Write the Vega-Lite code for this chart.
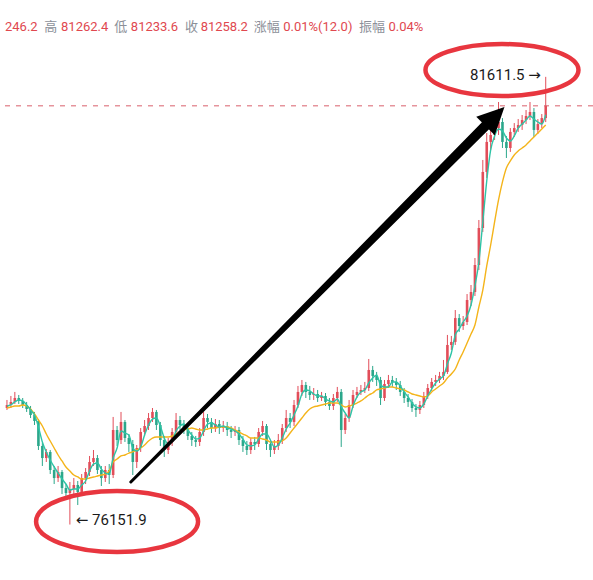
{
  "$schema": "https://vega.github.io/schema/vega-lite/v6.json",
  "width": 593,
  "height": 580,
  "autosize": {"type": "none"},
  "padding": 0,
  "background": "white",
  "config": {
    "view": {"stroke": null},
    "axis": {"domain": false, "ticks": false, "labels": false, "title": null, "grid": true, "gridColor": "#eef1f5", "gridWidth": 1}
  },
  "datasets": {
    "k": [
      {"i":0,"o":77573,"h":77671,"l":77549,"c":77610,"m1":77598,"m2":77573},
      {"i":1,"o":77610,"h":77720,"l":77573,"c":77647,"m1":77610,"m2":77586},
      {"i":2,"o":77647,"h":77769,"l":77622,"c":77695,"m1":77647,"m2":77598},
      {"i":3,"o":77695,"h":77732,"l":77622,"c":77659,"m1":77671,"m2":77598},
      {"i":4,"o":77659,"h":77695,"l":77573,"c":77610,"m1":77659,"m2":77610},
      {"i":5,"o":77610,"h":77647,"l":77525,"c":77561,"m1":77610,"m2":77598},
      {"i":6,"o":77561,"h":77598,"l":77451,"c":77488,"m1":77549,"m2":77561},
      {"i":7,"o":77488,"h":77525,"l":77366,"c":77415,"m1":77488,"m2":77500},
      {"i":8,"o":77415,"h":77439,"l":77061,"c":77110,"m1":77342,"m2":77427},
      {"i":9,"o":77110,"h":77146,"l":76866,"c":76963,"m1":77159,"m2":77354},
      {"i":10,"o":76963,"h":77073,"l":76915,"c":77037,"m1":77037,"m2":77256},
      {"i":11,"o":77037,"h":77061,"l":76768,"c":76817,"m1":76939,"m2":77171},
      {"i":12,"o":76817,"h":76866,"l":76646,"c":76719,"m1":76854,"m2":77085},
      {"i":13,"o":76719,"h":76866,"l":76671,"c":76793,"m1":76780,"m2":77000},
      {"i":14,"o":76793,"h":76817,"l":76524,"c":76597,"m1":76707,"m2":76927},
      {"i":15,"o":76597,"h":76646,"l":76463,"c":76536,"m1":76646,"m2":76854},
      {"i":16,"o":76536,"h":76671,"l":76151.9,"c":76585,"m1":76573,"m2":76805},
      {"i":17,"o":76585,"h":76719,"l":76500,"c":76634,"m1":76585,"m2":76756},
      {"i":18,"o":76634,"h":76683,"l":76390,"c":76549,"m1":76585,"m2":76732},
      {"i":19,"o":76549,"h":76768,"l":76500,"c":76719,"m1":76634,"m2":76707},
      {"i":20,"o":76719,"h":76841,"l":76646,"c":76793,"m1":76683,"m2":76707},
      {"i":21,"o":76793,"h":76988,"l":76744,"c":76915,"m1":76805,"m2":76719},
      {"i":22,"o":76915,"h":77061,"l":76866,"c":76963,"m1":76890,"m2":76732},
      {"i":23,"o":76963,"h":77000,"l":76768,"c":76817,"m1":76902,"m2":76744},
      {"i":24,"o":76817,"h":76866,"l":76622,"c":76719,"m1":76829,"m2":76756},
      {"i":25,"o":76719,"h":76866,"l":76671,"c":76817,"m1":76780,"m2":76768},
      {"i":26,"o":76817,"h":76890,"l":76646,"c":76756,"m1":76768,"m2":76805},
      {"i":27,"o":76756,"h":77464,"l":76719,"c":77305,"m1":76963,"m2":76915},
      {"i":28,"o":77305,"h":77354,"l":77110,"c":77183,"m1":77085,"m2":76951},
      {"i":29,"o":77183,"h":77525,"l":77134,"c":77403,"m1":77293,"m2":76988},
      {"i":30,"o":77403,"h":77427,"l":77159,"c":77207,"m1":77268,"m2":77000},
      {"i":31,"o":77207,"h":77256,"l":77037,"c":77134,"m1":77244,"m2":77024},
      {"i":32,"o":77134,"h":77183,"l":76756,"c":76915,"m1":77085,"m2":77037},
      {"i":33,"o":76915,"h":77122,"l":76841,"c":77085,"m1":77049,"m2":77061},
      {"i":34,"o":77085,"h":77329,"l":77037,"c":77281,"m1":77098,"m2":77085},
      {"i":35,"o":77281,"h":77427,"l":77232,"c":77354,"m1":77244,"m2":77122},
      {"i":36,"o":77354,"h":77512,"l":77305,"c":77451,"m1":77366,"m2":77171},
      {"i":37,"o":77451,"h":77573,"l":77403,"c":77525,"m1":77439,"m2":77207},
      {"i":38,"o":77525,"h":77549,"l":77305,"c":77366,"m1":77451,"m2":77220},
      {"i":39,"o":77366,"h":77403,"l":77110,"c":77183,"m1":77354,"m2":77220},
      {"i":40,"o":77183,"h":77232,"l":76976,"c":77061,"m1":77207,"m2":77220},
      {"i":41,"o":77061,"h":77207,"l":77012,"c":77159,"m1":77134,"m2":77220},
      {"i":42,"o":77159,"h":77329,"l":77110,"c":77281,"m1":77171,"m2":77232},
      {"i":43,"o":77281,"h":77512,"l":77232,"c":77427,"m1":77293,"m2":77256},
      {"i":44,"o":77427,"h":77476,"l":77305,"c":77366,"m1":77354,"m2":77281},
      {"i":45,"o":77366,"h":77427,"l":77256,"c":77329,"m1":77378,"m2":77305},
      {"i":46,"o":77329,"h":77378,"l":77183,"c":77232,"m1":77305,"m2":77317},
      {"i":47,"o":77232,"h":77281,"l":77110,"c":77183,"m1":77244,"m2":77329},
      {"i":48,"o":77183,"h":77232,"l":77098,"c":77159,"m1":77195,"m2":77317},
      {"i":49,"o":77159,"h":77329,"l":77110,"c":77281,"m1":77207,"m2":77305},
      {"i":50,"o":77281,"h":77525,"l":77232,"c":77451,"m1":77293,"m2":77305},
      {"i":51,"o":77451,"h":77500,"l":77329,"c":77403,"m1":77378,"m2":77317},
      {"i":52,"o":77403,"h":77451,"l":77268,"c":77329,"m1":77390,"m2":77329},
      {"i":53,"o":77329,"h":77439,"l":77281,"c":77378,"m1":77366,"m2":77329},
      {"i":54,"o":77378,"h":77427,"l":77256,"c":77329,"m1":77342,"m2":77342},
      {"i":55,"o":77329,"h":77415,"l":77281,"c":77354,"m1":77354,"m2":77342},
      {"i":56,"o":77354,"h":77403,"l":77232,"c":77305,"m1":77329,"m2":77342},
      {"i":57,"o":77305,"h":77354,"l":77207,"c":77281,"m1":77317,"m2":77329},
      {"i":58,"o":77281,"h":77354,"l":77232,"c":77305,"m1":77293,"m2":77305},
      {"i":59,"o":77305,"h":77342,"l":77122,"c":77183,"m1":77256,"m2":77281},
      {"i":60,"o":77183,"h":77232,"l":77037,"c":77110,"m1":77195,"m2":77256},
      {"i":61,"o":77110,"h":77171,"l":77000,"c":77061,"m1":77122,"m2":77232},
      {"i":62,"o":77061,"h":77207,"l":77012,"c":77159,"m1":77110,"m2":77207},
      {"i":63,"o":77159,"h":77220,"l":77061,"c":77134,"m1":77122,"m2":77207},
      {"i":64,"o":77134,"h":77329,"l":77098,"c":77281,"m1":77195,"m2":77207},
      {"i":65,"o":77281,"h":77415,"l":77232,"c":77354,"m1":77256,"m2":77195},
      {"i":66,"o":77354,"h":77378,"l":77061,"c":77134,"m1":77256,"m2":77183},
      {"i":67,"o":77134,"h":77183,"l":76976,"c":77061,"m1":77183,"m2":77159},
      {"i":68,"o":77061,"h":77183,"l":77012,"c":77110,"m1":77098,"m2":77159},
      {"i":69,"o":77110,"h":77256,"l":77061,"c":77183,"m1":77122,"m2":77159},
      {"i":70,"o":77183,"h":77378,"l":77134,"c":77329,"m1":77207,"m2":77171},
      {"i":71,"o":77329,"h":77549,"l":77281,"c":77451,"m1":77317,"m2":77207},
      {"i":72,"o":77451,"h":77512,"l":77329,"c":77403,"m1":77390,"m2":77268},
      {"i":73,"o":77403,"h":77671,"l":77354,"c":77610,"m1":77488,"m2":77329},
      {"i":74,"o":77610,"h":77842,"l":77573,"c":77769,"m1":77598,"m2":77390},
      {"i":75,"o":77769,"h":77915,"l":77720,"c":77854,"m1":77744,"m2":77451},
      {"i":76,"o":77854,"h":77891,"l":77695,"c":77769,"m1":77793,"m2":77512},
      {"i":77,"o":77769,"h":77842,"l":77671,"c":77732,"m1":77781,"m2":77561},
      {"i":78,"o":77732,"h":77817,"l":77671,"c":77744,"m1":77744,"m2":77586},
      {"i":79,"o":77744,"h":77793,"l":77647,"c":77695,"m1":77720,"m2":77598},
      {"i":80,"o":77695,"h":77769,"l":77659,"c":77720,"m1":77720,"m2":77610},
      {"i":81,"o":77720,"h":77756,"l":77598,"c":77647,"m1":77683,"m2":77622},
      {"i":82,"o":77647,"h":77695,"l":77549,"c":77598,"m1":77659,"m2":77634},
      {"i":83,"o":77598,"h":77744,"l":77549,"c":77695,"m1":77647,"m2":77634},
      {"i":84,"o":77695,"h":77830,"l":77647,"c":77769,"m1":77683,"m2":77634},
      {"i":85,"o":77769,"h":77805,"l":77098,"c":77305,"m1":77586,"m2":77610},
      {"i":86,"o":77305,"h":77500,"l":77256,"c":77451,"m1":77512,"m2":77586},
      {"i":87,"o":77451,"h":77671,"l":77403,"c":77610,"m1":77451,"m2":77598},
      {"i":88,"o":77610,"h":77793,"l":77573,"c":77732,"m1":77598,"m2":77610},
      {"i":89,"o":77732,"h":77830,"l":77695,"c":77769,"m1":77708,"m2":77634},
      {"i":90,"o":77769,"h":77854,"l":77732,"c":77793,"m1":77769,"m2":77659},
      {"i":91,"o":77793,"h":77891,"l":77756,"c":77817,"m1":77793,"m2":77695},
      {"i":92,"o":77817,"h":78171,"l":77781,"c":78037,"m1":77878,"m2":77732},
      {"i":93,"o":78037,"h":78086,"l":77891,"c":77964,"m1":77939,"m2":77756},
      {"i":94,"o":77964,"h":78013,"l":77842,"c":77915,"m1":77976,"m2":77793},
      {"i":95,"o":77915,"h":77952,"l":77610,"c":77695,"m1":77854,"m2":77805},
      {"i":96,"o":77695,"h":77915,"l":77659,"c":77866,"m1":77830,"m2":77817},
      {"i":97,"o":77866,"h":77976,"l":77817,"c":77915,"m1":77830,"m2":77830},
      {"i":98,"o":77915,"h":77964,"l":77830,"c":77891,"m1":77891,"m2":77830},
      {"i":99,"o":77891,"h":77939,"l":77793,"c":77854,"m1":77891,"m2":77817},
      {"i":100,"o":77854,"h":77903,"l":77720,"c":77769,"m1":77842,"m2":77805},
      {"i":101,"o":77769,"h":77817,"l":77634,"c":77695,"m1":77769,"m2":77793},
      {"i":102,"o":77695,"h":77744,"l":77586,"c":77647,"m1":77708,"m2":77769},
      {"i":103,"o":77647,"h":77683,"l":77525,"c":77573,"m1":77634,"m2":77744},
      {"i":104,"o":77573,"h":77622,"l":77464,"c":77549,"m1":77586,"m2":77732},
      {"i":105,"o":77549,"h":77659,"l":77500,"c":77610,"m1":77573,"m2":77720},
      {"i":106,"o":77610,"h":77769,"l":77573,"c":77720,"m1":77622,"m2":77708},
      {"i":107,"o":77720,"h":77866,"l":77683,"c":77817,"m1":77720,"m2":77720},
      {"i":108,"o":77817,"h":77939,"l":77781,"c":77891,"m1":77805,"m2":77769},
      {"i":109,"o":77891,"h":77976,"l":77842,"c":77915,"m1":77878,"m2":77805},
      {"i":110,"o":77915,"h":78013,"l":77878,"c":77964,"m1":77927,"m2":77842},
      {"i":111,"o":77964,"h":78159,"l":77915,"c":78013,"m1":77964,"m2":77878},
      {"i":112,"o":78013,"h":78464,"l":77988,"c":78342,"m1":78110,"m2":77939},
      {"i":113,"o":78342,"h":78452,"l":78281,"c":78379,"m1":78244,"m2":77988},
      {"i":114,"o":78379,"h":78768,"l":78342,"c":78670,"m1":78464,"m2":78049},
      {"i":115,"o":78670,"h":78719,"l":78501,"c":78573,"m1":78536,"m2":78159},
      {"i":116,"o":78573,"h":78695,"l":78525,"c":78622,"m1":78622,"m2":78257},
      {"i":117,"o":78622,"h":78963,"l":78585,"c":78890,"m1":78695,"m2":78366},
      {"i":118,"o":78890,"h":79073,"l":78817,"c":78988,"m1":78829,"m2":78476},
      {"i":119,"o":78988,"h":79402,"l":78939,"c":79317,"m1":79061,"m2":78585},
      {"i":120,"o":79317,"h":79866,"l":79256,"c":79768,"m1":79354,"m2":78805},
      {"i":121,"o":79768,"h":80598,"l":79720,"c":80452,"m1":79842,"m2":79012},
      {"i":122,"o":80452,"h":80927,"l":80378,"c":80818,"m1":80342,"m2":79305},
      {"i":123,"o":80818,"h":81085,"l":80720,"c":80903,"m1":80720,"m2":79561},
      {"i":124,"o":80903,"h":81170,"l":80842,"c":80987,"m1":80891,"m2":79842},
      {"i":125,"o":80987,"h":81305,"l":80903,"c":81061,"m1":80975,"m2":80110},
      {"i":126,"o":81061,"h":81109,"l":80744,"c":80818,"m1":80952,"m2":80330},
      {"i":127,"o":80818,"h":80891,"l":80622,"c":80744,"m1":80866,"m2":80500},
      {"i":128,"o":80744,"h":80987,"l":80696,"c":80940,"m1":80830,"m2":80586},
      {"i":129,"o":80940,"h":81048,"l":80879,"c":80987,"m1":80891,"m2":80659},
      {"i":130,"o":80987,"h":81097,"l":80940,"c":81024,"m1":80987,"m2":80708},
      {"i":131,"o":81024,"h":81146,"l":80964,"c":81085,"m1":81036,"m2":80744},
      {"i":132,"o":81085,"h":81207,"l":81036,"c":81134,"m1":81085,"m2":80781},
      {"i":133,"o":81134,"h":81305,"l":81085,"c":81183,"m1":81134,"m2":80830},
      {"i":134,"o":81183,"h":81231,"l":80879,"c":80964,"m1":81097,"m2":80879},
      {"i":135,"o":80964,"h":81097,"l":80915,"c":81036,"m1":81061,"m2":80927},
      {"i":136,"o":81036,"h":81158,"l":80987,"c":81109,"m1":81036,"m2":80975},
      {"i":137,"o":81109,"h":81611.5,"l":81060,"c":81258.2,"m1":81150,"m2":81024}
    ],
    "hdr": [
      {"i":-0.5,"p":82219.5,"t":"246.2","k":"v"},
      {"i":9.5,"p":82219.5,"t":"高","k":"n"},
      {"i":13.75,"p":82219.5,"t":"81262.4","k":"v"},
      {"i":27.25,"p":82219.5,"t":"低","k":"n"},
      {"i":31.5,"p":82219.5,"t":"81233.6","k":"v"},
      {"i":45.25,"p":82219.5,"t":"收","k":"n"},
      {"i":49.25,"p":82219.5,"t":"81258.2","k":"v"},
      {"i":62.75,"p":82219.5,"t":"涨幅","k":"n"},
      {"i":70.25,"p":82219.5,"t":"0.01%(12.0)","k":"v"},
      {"i":89.5,"p":82219.5,"t":"振幅","k":"n"},
      {"i":97,"p":82219.5,"t":"0.04%","k":"v"}
    ]
  },
  "layer": [
    {
      "data": {"name": "k"},
      "mark": {"type": "rule", "strokeWidth": 1},
      "encoding": {
        "x": {"field": "i", "type": "quantitative", "scale": {"domain": [-0.5, 147.75], "nice": false, "zero": false}, "axis": {"values": [5, 35, 65.25, 95.25, 125.25]}},
        "y": {"field": "l", "type": "quantitative", "scale": {"domain": [75475.6, 82548.8], "nice": false, "zero": false}, "axis": {"values": [76000, 76500, 77000, 77500, 78000, 78500, 79000, 79500, 80000, 80500, 81000, 81500, 82000]}},
        "y2": {"field": "h"},
        "color": {"condition": {"test": "datum.c >= datum.o", "value": "#e24d59"}, "value": "#2ba78b"}
      }
    },
    {
      "data": {"name": "k"},
      "mark": {"type": "bar", "size": 2.6},
      "encoding": {
        "x": {"field": "i", "type": "quantitative", "scale": {"domain": [-0.5, 147.75], "nice": false, "zero": false}, "axis": null},
        "y": {"field": "o", "type": "quantitative", "scale": {"domain": [75475.6, 82548.8], "nice": false, "zero": false}, "axis": null},
        "y2": {"field": "c"},
        "color": {"condition": {"test": "datum.c >= datum.o", "value": "#e24d59"}, "value": "#2ba78b"}
      }
    },
    {
      "data": {"name": "k"},
      "mark": {"type": "line", "color": "#f4b41a", "strokeWidth": 1.4, "interpolate": "monotone"},
      "encoding": {
        "x": {"field": "i", "type": "quantitative", "scale": {"domain": [-0.5, 147.75], "nice": false, "zero": false}, "axis": null},
        "y": {"field": "m2", "type": "quantitative", "scale": {"domain": [75475.6, 82548.8], "nice": false, "zero": false}, "axis": null}
      }
    },
    {
      "data": {"name": "k"},
      "mark": {"type": "line", "color": "#2ec4a6", "strokeWidth": 1.4, "interpolate": "monotone"},
      "encoding": {
        "x": {"field": "i", "type": "quantitative", "scale": {"domain": [-0.5, 147.75], "nice": false, "zero": false}, "axis": null},
        "y": {"field": "m1", "type": "quantitative", "scale": {"domain": [75475.6, 82548.8], "nice": false, "zero": false}, "axis": null}
      }
    },
    {
      "data": {"values": [{"p": 81258.2}]},
      "mark": {"type": "rule", "color": "#d9606c", "strokeWidth": 1, "strokeDash": [5, 6]},
      "encoding": {
        "y": {"field": "p", "type": "quantitative", "scale": {"domain": [75475.6, 82548.8], "nice": false, "zero": false}, "axis": null}
      }
    },
    {
      "data": {"values": [{"i": 31.5, "p": 76671, "pt": 0}, {"i": 122, "p": 81030, "pt": 1}]},
      "mark": {"type": "trail", "color": "#000000"},
      "encoding": {
        "x": {"field": "i", "type": "quantitative", "scale": {"domain": [-0.5, 147.75], "nice": false, "zero": false}, "axis": null},
        "y": {"field": "p", "type": "quantitative", "scale": {"domain": [75475.6, 82548.8], "nice": false, "zero": false}, "axis": null},
        "size": {"field": "pt", "type": "quantitative", "scale": {"domain": [0, 1], "range": [3, 10]}, "legend": null}
      }
    },
    {
      "data": {"values": [{"i": 123.9, "p": 81119.5}]},
      "mark": {"type": "point", "shape": "M 0 -1 L 0.9 0.85 L -0.9 0.85 Z", "size": 841, "angle": 45, "filled": true, "color": "#000000", "opacity": 1},
      "encoding": {
        "x": {"field": "i", "type": "quantitative", "scale": {"domain": [-0.5, 147.75], "nice": false, "zero": false}, "axis": null},
        "y": {"field": "p", "type": "quantitative", "scale": {"domain": [75475.6, 82548.8], "nice": false, "zero": false}, "axis": null}
      }
    },
    {
      "data": {"values": [{"i": 125.875, "p": 81695}]},
      "mark": {"type": "point", "shape": "M -1 0 C -1 -0.188 -0.552 -0.34 0 -0.34 C 0.552 -0.34 1 -0.188 1 0 C 1 0.188 0.552 0.34 0 0.34 C -0.552 0.34 -1 0.188 -1 0 Z", "size": 23409, "filled": false, "color": "#e8363f", "strokeWidth": 4.5, "opacity": 1},
      "encoding": {
        "x": {"field": "i", "type": "quantitative", "scale": {"domain": [-0.5, 147.75], "nice": false, "zero": false}, "axis": null},
        "y": {"field": "p", "type": "quantitative", "scale": {"domain": [75475.6, 82548.8], "nice": false, "zero": false}, "axis": null}
      }
    },
    {
      "data": {"values": [{"i": 28, "p": 76189}]},
      "mark": {"type": "point", "shape": "M -1 0 C -1 -0.208 -0.552 -0.377 0 -0.377 C 0.552 -0.377 1 -0.208 1 0 C 1 0.208 0.552 0.377 0 0.377 C -0.552 0.377 -1 0.208 -1 0 Z", "size": 26244, "filled": false, "color": "#e8363f", "strokeWidth": 4.5, "opacity": 1},
      "encoding": {
        "x": {"field": "i", "type": "quantitative", "scale": {"domain": [-0.5, 147.75], "nice": false, "zero": false}, "axis": null},
        "y": {"field": "p", "type": "quantitative", "scale": {"domain": [75475.6, 82548.8], "nice": false, "zero": false}, "axis": null}
      }
    },
    {
      "data": {"values": [{"i": 17.5, "p": 76207, "t": "← 76151.9"}]},
      "mark": {"type": "text", "align": "left", "baseline": "middle", "fontSize": 15, "font": "Roboto, DejaVu Sans, sans-serif", "color": "#1a1a1a"},
      "encoding": {
        "x": {"field": "i", "type": "quantitative", "scale": {"domain": [-0.5, 147.75], "nice": false, "zero": false}, "axis": null},
        "y": {"field": "p", "type": "quantitative", "scale": {"domain": [75475.6, 82548.8], "nice": false, "zero": false}, "axis": null},
        "text": {"field": "t"}
      }
    },
    {
      "data": {"values": [{"i": 135.75, "p": 81634, "t": "81611.5 →"}]},
      "mark": {"type": "text", "align": "right", "baseline": "middle", "fontSize": 15, "font": "Roboto, DejaVu Sans, sans-serif", "color": "#1a1a1a"},
      "encoding": {
        "x": {"field": "i", "type": "quantitative", "scale": {"domain": [-0.5, 147.75], "nice": false, "zero": false}, "axis": null},
        "y": {"field": "p", "type": "quantitative", "scale": {"domain": [75475.6, 82548.8], "nice": false, "zero": false}, "axis": null},
        "text": {"field": "t"}
      }
    },
    {
      "data": {"name": "hdr"},
      "mark": {"type": "text", "align": "left", "baseline": "middle", "fontSize": 13, "font": "Roboto, Noto Sans CJK SC, sans-serif"},
      "encoding": {
        "x": {"field": "i", "type": "quantitative", "scale": {"domain": [-0.5, 147.75], "nice": false, "zero": false}, "axis": null},
        "y": {"field": "p", "type": "quantitative", "scale": {"domain": [75475.6, 82548.8], "nice": false, "zero": false}, "axis": null},
        "text": {"field": "t"},
        "color": {"condition": {"test": "datum.k == 'v'", "value": "#e0484f"}, "value": "#8c9099"}
      }
    }
  ]
}
